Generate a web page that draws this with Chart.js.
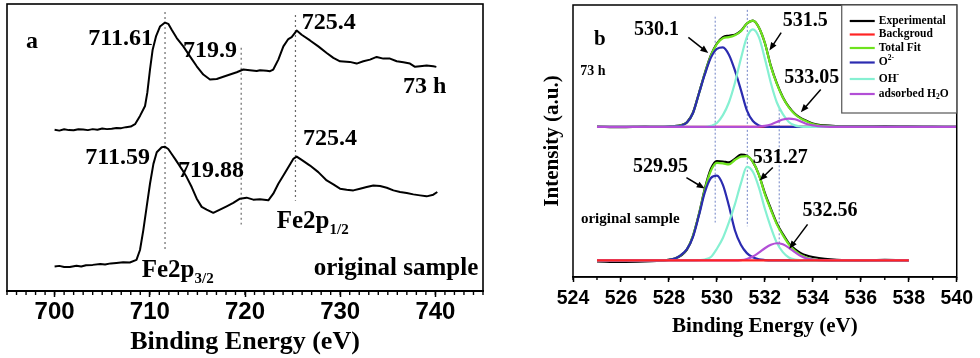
<!DOCTYPE html>
<html><head><meta charset="utf-8">
<script src="https://cdn.jsdelivr.net/npm/chart.js@4.4.1/dist/chart.umd.min.js"></script>
<style>
html,body{margin:0;padding:0;background:#fff;width:980px;height:358px;overflow:hidden}
#wa{position:absolute;left:0;top:0;width:490px;height:358px}
#wb{position:absolute;left:490px;top:0;width:490px;height:358px}
</style></head><body>
<div id="wa"><canvas id="ca" width="490" height="358"></canvas></div>
<div id="wb"><canvas id="cb" width="490" height="358"></canvas></div>
<script>
// ---------------- Panel a : Fe 2p spectra ----------------
const A_X_73H = [700,700.5,701,701.5,702,702.5,703,703.5,704,704.5,705,705.5,706,706.5,707,707.5,708,708.45,708.97,709.5,709.74,710.02,710.3,710.65,711.07,711.6,711.94,712.3,712.83,713.52,714.22,714.93,715.62,716.32,717.03,717.72,718.42,719.13,719.82,720.5,721.23,721.58,722.28,722.63,722.97,723.5,724.03,724.55,724.9,725.43,725.95,726.83,727.7,728.58,729.28,729.98,731.0,731.73,732.43,733.13,733.83,734.53,735.23,735.94,736.64,737.33,737.86,738.38,739.08,739.78,740.1];
const A_Y_73H = [162.3,161.5,162.8,162,161.8,162.9,162.6,162,163,162.4,163.6,163,163.4,164.2,164,165,165.6,168,176.3,186.3,199.7,223,243,256.3,266.3,270.3,269,263,254.7,246.3,236.3,226.3,218,213,213.5,215.7,218,220.3,223,222.3,221.5,222.3,221.8,221.3,223,233,246.3,253.7,255.7,262.3,258,252.3,246.3,239.7,234.7,231.3,230.7,229,231.3,233,235.7,234,234,231.3,230.3,229,225.7,226.3,227,226.3,225.7];
const A_X_ORIG = [700,700.5,701,701.6,702.3,702.8,703.3,704,704.8,705.3,705.9,706.5,707.2,707.9,708.6,708.97,709.32,709.67,710.02,710.38,710.73,711.25,711.6,711.94,712.3,712.65,713.0,713.34,713.87,714.4,714.93,715.45,715.97,716.67,717.37,718.07,718.77,719.47,720.17,720.87,721.57,722.45,722.97,723.5,724.03,724.55,725.07,725.43,725.95,726.83,727.7,728.58,729.28,729.98,730.68,731.38,732.08,732.78,733.48,734.19,734.89,735.59,736.29,736.99,737.68,738.38,739.08,739.78,740.2];
const A_Y_ORIG = [24.7,25.3,24.2,24.1,25.5,24.6,26,26.3,27.3,26.6,27.8,28.3,29,28.7,31.3,41.3,61.3,84.7,108,128,139.7,144.7,145.3,143,138,133,128,123,114.7,104.7,93,84.7,82,78.7,82,85.3,88.7,93,94,92,92.5,91.3,98,108,116.3,124.7,133,135.3,132,126.3,119.7,111.3,107.3,103,102,101.3,103,104.7,106.3,105.7,104,101.3,99.7,98.7,97.3,96.3,95.3,97,99.7];
const A_MARK_X = [711.6, 719.6, 725.3];
const A_MARK_TOP = [281, 245, 278];
const A_MARK_BOT = [40, 67, 91];
const A_TICKS = [700, 710, 720, 730, 740];

// ---------------- Panel b : O 1s spectra ----------------
const B_X_73H = [525,526,527,527.5,528,528.25,528.5,528.75,529,529.25,529.5,529.75,530,530.25,530.5,530.75,531,531.25,531.5,531.75,532,532.25,532.5,532.75,533,533.25,533.5,533.75,534,534.5,535,536,537,538,539,540];
const B_EXP_73H = [0.3,-0.3,0.2,0,0.4,0.8,1.8,4.8,14.5,34.5,55.5,73.5,85.5,92,93.5,94.5,98.5,106,109,102,86,62.5,44.5,30.5,20.5,13.5,9,6,3.5,1.5,0.8,0.5,0.8,0.4,0.2,0];
const B_FIT_73H = [0,0,0,0,0.2,0.5,1.5,4.5,14,34,55,73,85,91,92,94,98,106,109,102,86,62,44,30,20,13,8.5,5.5,3,1,0.3,0,0,0,0,0];
const B_O_73H   = [0,0,0,0,0.2,0.5,1.2,4.5,14,34,54,71,80,81.5,74,58,38,17,6,1.5,0.3,0,0,0,0,0,0,0,0,0,0,0,0,0,0,0];
const B_OH_73H  = [0,0,0,0,0,0,0,0,0,0,0,1,4,12,25,45,70,92,100,92,70,45,25,13,5,1.5,0.3,0,0,0,0,0,0,0,0,0];
const B_H2O_73H = [0,0,0,0,0,0,0,0,0,0,0,0,0,0,0,0,0,0,0,0.3,1,2.5,5,7.5,8.5,7.8,5.5,3,1.5,0.3,0,0,0,0,0,0];
const B_BG_X_73H = [525, 540];
const B_BG_73H = [0, 0];

const B_X_ORIG = [525,526,527,527.5,528,528.25,528.5,528.75,529,529.25,529.5,529.75,530,530.25,530.5,530.75,531,531.25,531.5,531.75,532,532.25,532.5,532.75,533,533.25,533.5,533.75,534,534.5,535,536,537,538];
const B_EXP_ORIG = [-1,-1.5,-1,-0.5,0.5,2,5,11,25,47.5,74,94,102,101.5,100.5,104,108.5,107.5,101,88,69,53,38,27,17.5,11.5,7.5,5,3.5,1.5,0.5,0,0.5,0];
const B_FIT_ORIG = [0,0,0,0,0.7,2,5.5,11.5,25,47,73,92,100,99.5,98.5,103,106.5,107,101,88,68,52,37,26,16.5,10,5.5,2.8,1.2,0.3,0,0,0,0];
const B_O_ORIG   = [0,0,0,0,0.7,2,5.5,11.5,24,46,70,84.5,87,77.5,56,31,16,7.5,3.3,1.2,0.4,0,0,0,0,0,0,0,0,0,0,0,0,0];
const B_OH_ORIG  = [0,0,0,0,0,0,0,0,0,0.3,1,3.5,12,23,39,57.5,79,96,91,75,53,34,18,8.5,3,1,0.3,0,0,0,0,0,0,0];
const B_H2O_ORIG = [0,0,0,0,0,0,0,0,0,0,0,0,0,0,0,0,0.3,1.5,4,8,12.5,16,17.6,16.5,13,8.5,4.5,2,0.8,0,0,0,0,0];
const B_BG_X_ORIG = [525, 538];
const B_BG_ORIG = [0, 0];
const B_OFFSET_73H = 154;
const B_OFFSET_ORIG = 17;

const B_MARK_X = [529.93, 531.27, 532.6];
const B_MARK_TOP = [267, 274, 172];
const B_MARK_BOT = [56, 52, 31];

const B_SERIES = ['Experimental', 'Backgroud', 'Total Fit', 'O2-', 'OH-', 'adsorbed H2O'];
const B_COLORS = ['#000000', '#ff2424', '#6ee31e', '#2b2bb0', '#86f0d2', '#b24fd6'];

// ---------------- helpers ----------------
const pts = (xs, ys, off = 0) => xs.map((x, i) => ({x: x, y: ys[i] + off}));
const SERIF = "'Liberation Serif','Times New Roman',serif";
const SANS = "'Liberation Sans',Arial,sans-serif";

function richText(ctx, x, y, parts, align) {
  let total = 0;
  parts.forEach(p => { ctx.font = 'bold ' + p[1] + 'px ' + SERIF; total += ctx.measureText(p[0]).width; });
  let cx = align === 'right' ? x - total : align === 'center' ? x - total / 2 : x;
  ctx.textAlign = 'left';
  ctx.textBaseline = 'middle';
  parts.forEach(p => {
    ctx.font = 'bold ' + p[1] + 'px ' + SERIF;
    ctx.fillText(p[0], cx, y + (p[2] || 0));
    cx += ctx.measureText(p[0]).width;
  });
}

function arrow(ctx, x1, y1, x2, y2) {
  const a = Math.atan2(y2 - y1, x2 - x1), L = 8, W = 3.2;
  ctx.beginPath(); ctx.moveTo(x1, y1); ctx.lineTo(x2 - Math.cos(a) * L * 0.8, y2 - Math.sin(a) * L * 0.8); ctx.stroke();
  ctx.beginPath();
  ctx.moveTo(x2, y2);
  ctx.lineTo(x2 - Math.cos(a) * L - Math.sin(a) * W, y2 - Math.sin(a) * L + Math.cos(a) * W);
  ctx.lineTo(x2 - Math.cos(a) * L + Math.sin(a) * W, y2 - Math.sin(a) * L - Math.cos(a) * W);
  ctx.closePath(); ctx.fill();
}

function framePlugin(width) {
  return {
    id: 'frame',
    afterDraw(chart) {
      const {left, right, top, bottom} = chart.chartArea, ctx = chart.ctx;
      ctx.save(); ctx.strokeStyle = '#000'; ctx.lineWidth = width;
      ctx.strokeRect(left, top, right - left, bottom - top);
      ctx.restore();
    }
  };
}

function minorTickPlugin(step, len) {
  return {
    id: 'minorTicks',
    afterDraw(chart) {
      const s = chart.scales.x, ctx = chart.ctx, y0 = chart.chartArea.bottom;
      ctx.save(); ctx.strokeStyle = '#000'; ctx.lineWidth = 1.4;
      for (let v = s.min; v <= s.max + 1e-9; v += step) {
        const px = s.getPixelForValue(v);
        ctx.beginPath(); ctx.moveTo(px, y0); ctx.lineTo(px, y0 + len); ctx.stroke();
      }
      ctx.restore();
    }
  };
}

function markSets(xs, tops, bots, color, dash) {
  return xs.map((x, i) => ({
    data: [{x: x, y: tops[i]}, {x: x, y: bots[i]}],
    borderColor: color, borderWidth: 1.2, borderDash: dash, pointRadius: 0, order: 50
  }));
}

// ---------------- Chart a ----------------
const A_TEXT = [
  {x: 697.63, y: 251, parts: [['a', 24]], align: 'center'},
  {x: 710.34, y: 254, parts: [['711.61', 24]], align: 'right'},
  {x: 713.49, y: 242, parts: [['719.9', 24]], align: 'left'},
  {x: 725.96, y: 270, parts: [['725.4', 24]], align: 'left'},
  {x: 736.6, y: 206, parts: [['73 h', 24]], align: 'left'},
  {x: 710.02, y: 134, parts: [['711.59', 24]], align: 'right'},
  {x: 712.96, y: 121, parts: [['719.88', 24]], align: 'left'},
  {x: 726.09, y: 153, parts: [['725.4', 24]], align: 'left'},
  {x: 723.33, y: 70, parts: [['Fe2p', 25], ['1/2', 15, 9]], align: 'left'},
  {x: 709.15, y: 21, parts: [['Fe2p', 25], ['3/2', 15, 9]], align: 'left'},
  {x: 744.5, y: 23, parts: [['original sample', 25]], align: 'right'}
];

const textPluginA = {
  id: 'textA',
  afterDatasetsDraw(chart) {
    const ctx = chart.ctx, sx = chart.scales.x, sy = chart.scales.y;
    ctx.save(); ctx.fillStyle = '#000';
    A_TEXT.forEach(t => richText(ctx, sx.getPixelForValue(t.x), sy.getPixelForValue(t.y), t.parts, t.align));
    ctx.restore();
  }
};

new Chart(document.getElementById('ca'), {
  type: 'line',
  data: {
    datasets: [
      {label: '73 h', data: pts(A_X_73H, A_Y_73H), borderColor: '#000', borderWidth: 2, pointRadius: 0, tension: 0, borderJoinStyle: 'round', order: 1},
      {label: 'original sample', data: pts(A_X_ORIG, A_Y_ORIG), borderColor: '#000', borderWidth: 2, pointRadius: 0, tension: 0, borderJoinStyle: 'round', order: 2}
    ].concat(markSets(A_MARK_X, A_MARK_TOP, A_MARK_BOT, '#6a6a6a', [2, 3]))
  },
  options: {
    responsive: false, animation: false, devicePixelRatio: 1,
    layout: {padding: {left: 7, right: 7, top: 4, bottom: 3}},
    plugins: {legend: {display: false}, tooltip: {enabled: false}},
    scales: {
      x: {
        type: 'linear', min: 695, max: 745,
        afterBuildTicks: s => { s.ticks = A_TICKS.map(v => ({value: v})); },
        ticks: {autoSkip: false, maxRotation: 0, padding: 3, color: '#000',
          font: {family: SANS, weight: 'bold', size: 24, lineHeight: 1}},
        grid: {drawOnChartArea: false, drawTicks: true, tickLength: 6, tickColor: '#000', tickWidth: 1.5},
        border: {display: true, color: '#000', width: 2},
        title: {display: true, text: 'Binding Energy (eV)', color: '#000',
          font: {family: SERIF, weight: 'bold', size: 26, lineHeight: 1}, padding: {top: 2, bottom: 0}}
      },
      y: {display: false, min: 0, max: 289}
    }
  },
  plugins: [framePlugin(1.6), minorTickPlugin(1, 4), textPluginA]
});

// ---------------- Chart b ----------------
const B_TEXT = [
  {x: 525.12, y: 244, parts: [['b', 21]], align: 'center'},
  {x: 524.83, y: 211, parts: [['73 h', 14]], align: 'center'},
  {x: 526.39, y: 59, parts: [['original sample', 15]], align: 'center'},
  {x: 527.48, y: 254, parts: [['530.1', 20]], align: 'center'},
  {x: 533.68, y: 263, parts: [['531.5', 20]], align: 'center'},
  {x: 533.95, y: 204, parts: [['533.05', 20]], align: 'center'},
  {x: 527.65, y: 112.5, parts: [['529.95', 20]], align: 'center'},
  {x: 532.64, y: 122.5, parts: [['531.27', 20]], align: 'center'},
  {x: 534.72, y: 68, parts: [['532.56', 20]], align: 'center'}
];
const B_ARROWS = [
  [528.81, 245.7, 529.64, 229.7],
  [532.68, 250.7, 532.19, 232.3],
  [534.33, 192.3, 533.5, 169],
  [528.73, 102, 529.49, 90.7],
  [532.33, 112.3, 531.78, 99],
  [533.78, 54, 533.02, 29]
];
const LEGEND_PARTS = [
  [['Experimental', 11.5]],
  [['Backgroud', 11.5]],
  [['Total Fit', 11.5]],
  [['O', 11.5], ['2-', 7.5, -4]],
  [['OH', 11.5], ['-', 8, -4]],
  [['adsorbed H', 11.5], ['2', 7.5, 3], ['O', 11.5]]
];

const textPluginB = {
  id: 'textB',
  afterDraw(chart) {
    const ctx = chart.ctx, sx = chart.scales.x, sy = chart.scales.y, ca = chart.chartArea;
    ctx.save(); ctx.fillStyle = '#000'; ctx.strokeStyle = '#000'; ctx.lineWidth = 1.5;
    B_TEXT.forEach(t => richText(ctx, sx.getPixelForValue(t.x), sy.getPixelForValue(t.y), t.parts, t.align));
    B_ARROWS.forEach(a => arrow(ctx, sx.getPixelForValue(a[0]), sy.getPixelForValue(a[1]), sx.getPixelForValue(a[2]), sy.getPixelForValue(a[3])));
    // legend box
    const bx = ca.right - 115, by = ca.top, bw = 115, bh = 108;
    ctx.fillStyle = '#fff'; ctx.fillRect(bx, by, bw, bh);
    ctx.strokeStyle = '#555'; ctx.lineWidth = 1.2; ctx.strokeRect(bx, by, bw, bh);
    const rows = [16, 29.5, 43, 57.5, 74, 89];
    B_SERIES.forEach((name, i) => {
      const yy = by + rows[i];
      ctx.strokeStyle = B_COLORS[i]; ctx.lineWidth = 2.2;
      ctx.beginPath(); ctx.moveTo(bx + 8, yy); ctx.lineTo(bx + 33, yy); ctx.stroke();
      ctx.fillStyle = '#000';
      richText(ctx, bx + 37, yy, LEGEND_PARTS[i], 'left');
    });
    ctx.restore();
  }
};

function comp(label, xs, ys, off, color, order) {
  return {label: label, data: pts(xs, ys, off), borderColor: color, borderWidth: 2.2, pointRadius: 0,
    cubicInterpolationMode: 'monotone', order: order};
}

new Chart(document.getElementById('cb'), {
  type: 'line',
  data: {
    datasets: [
      comp(B_SERIES[0], B_X_73H, B_EXP_73H, B_OFFSET_73H, B_COLORS[0], 30),
      comp(B_SERIES[1], B_BG_X_73H, B_BG_73H, B_OFFSET_73H, B_COLORS[1], 29),
      comp(B_SERIES[2], B_X_73H, B_FIT_73H, B_OFFSET_73H, B_COLORS[2], 28),
      comp(B_SERIES[3], B_X_73H, B_O_73H, B_OFFSET_73H, B_COLORS[3], 27),
      comp(B_SERIES[4], B_X_73H, B_OH_73H, B_OFFSET_73H, B_COLORS[4], 26),
      comp(B_SERIES[5], B_X_73H, B_H2O_73H, B_OFFSET_73H, B_COLORS[5], 25),
      comp(B_SERIES[0], B_X_ORIG, B_EXP_ORIG, B_OFFSET_ORIG, B_COLORS[0], 20),
      comp(B_SERIES[2], B_X_ORIG, B_FIT_ORIG, B_OFFSET_ORIG, B_COLORS[2], 19),
      comp(B_SERIES[3], B_X_ORIG, B_O_ORIG, B_OFFSET_ORIG, B_COLORS[3], 18),
      comp(B_SERIES[4], B_X_ORIG, B_OH_ORIG, B_OFFSET_ORIG, B_COLORS[4], 17),
      comp(B_SERIES[5], B_X_ORIG, B_H2O_ORIG, B_OFFSET_ORIG, B_COLORS[5], 16),
      comp(B_SERIES[1], B_BG_X_ORIG, B_BG_ORIG, B_OFFSET_ORIG, B_COLORS[1], 15)
    ].concat(markSets(B_MARK_X, B_MARK_TOP, B_MARK_BOT, '#8797cf', [2, 2]))
  },
  options: {
    responsive: false, animation: false, devicePixelRatio: 1,
    layout: {padding: {left: 52, right: 20, top: 5, bottom: 20.5}},
    plugins: {legend: {display: false}, tooltip: {enabled: false}},
    scales: {
      x: {
        type: 'linear', min: 524, max: 540,
        ticks: {stepSize: 2, autoSkip: false, maxRotation: 0, padding: 7, color: '#000',
          font: {family: SANS, weight: 'bold', size: 19.5, lineHeight: 1}},
        grid: {drawOnChartArea: false, drawTicks: true, tickLength: 5, tickColor: '#000', tickWidth: 1.5},
        border: {display: true, color: '#000', width: 1.6},
        title: {display: true, text: 'Binding Energy (eV)', color: '#000',
          font: {family: SERIF, weight: 'bold', size: 21, lineHeight: 1}, padding: {top: 1, bottom: 0}}
      },
      y: {
        min: 0, max: 279,
        ticks: {display: false}, grid: {display: false}, border: {display: false},
        title: {display: true, text: 'Intensity (a.u.)', color: '#000',
          font: {family: SERIF, weight: 'bold', size: 21, lineHeight: 1}, padding: {top: 0, bottom: 2}}
      }
    }
  },
  plugins: [framePlugin(1.5), minorTickPlugin(1, 3), textPluginB]
});
</script></body></html>
